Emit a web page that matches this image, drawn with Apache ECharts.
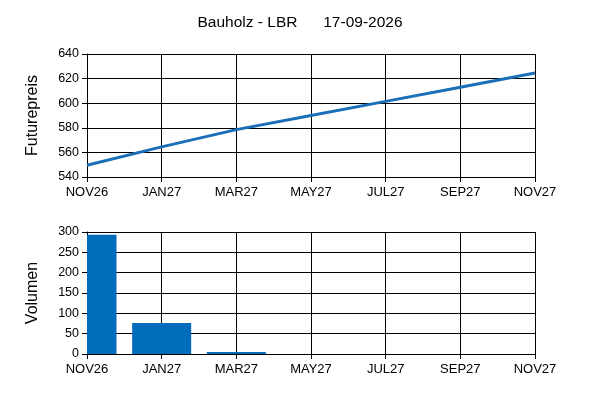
<!DOCTYPE html>
<html>
<head>
<meta charset="utf-8">
<script src="https://cdn.jsdelivr.net/npm/echarts@6/dist/echarts.min.js"></script>
<style>
  html, body { margin: 0; padding: 0; background: #fff; }
  #chart { width: 600px; height: 400px; }
</style>
</head>
<body>
<div id="chart"></div>
<script>
  const months = ["NOV26", "JAN27", "MAR27", "MAY27", "JUL27", "SEP27", "NOV27"];
  const futurePrice = [549.5, 564.5, 578.5, 590, 601.5, 613, 624.5];
  const volume = [293, 76, 5, 0, 0, 0, 0];

  const titleText = "Bauholz - LBR      17-09-2026";
  const fontFamily = "'Liberation Sans', Arial, sans-serif";
  const black = "#000";
  const barWidth = 59;

  function xAxisFor(gridIndex) {
    return {
      type: "category",
      gridIndex: gridIndex,
      data: months,
      boundaryGap: false,
      axisLine: { lineStyle: { color: black, width: 1 } },
      axisTick: { show: true, length: 5, inside: false, lineStyle: { color: black } },
      axisLabel: { color: black, fontSize: 13, fontFamily: fontFamily, margin: 9, interval: 0 },
      splitLine: { show: true, lineStyle: { color: black, width: 1 } },
    };
  }

  function yAxisFor(gridIndex, name, min, max, interval) {
    return {
      type: "value",
      gridIndex: gridIndex,
      min: min,
      max: max,
      interval: interval,
      name: name,
      nameLocation: "middle",
      nameGap: 46,
      nameTextStyle: { color: black, fontSize: 16, fontFamily: fontFamily },
      axisLine: { show: true, lineStyle: { color: black, width: 1 } },
      axisTick: { show: true, length: 5, lineStyle: { color: black } },
      axisLabel: { color: black, fontSize: 12.5, fontFamily: fontFamily, margin: 8 },
      splitLine: { show: true, lineStyle: { color: black, width: 1 } },
    };
  }

  // bars clipped to the plot area (first bar sits on the left edge)
  function renderBar(params, api) {
    const idx = api.value(0);
    const val = api.value(1);
    if (!val) return null;
    const top = api.coord([idx, val]);
    const base = api.coord([idx, 0]);
    const cs = params.coordSys;
    const shape = echarts.graphic.clipRectByRect(
      { x: top[0] - barWidth / 2, y: top[1], width: barWidth, height: base[1] - top[1] },
      { x: cs.x, y: cs.y, width: cs.width, height: cs.height }
    );
    if (!shape) return null;
    return { type: "rect", shape: shape, style: api.style() };
  }

  const chart = echarts.init(document.getElementById("chart"));
  chart.setOption({
    backgroundColor: "#fff",
    animation: false,
    title: {
      text: titleText,
      left: "center",
      top: 10,
      textStyle: { color: black, fontSize: 15.5, fontWeight: "normal", fontFamily: fontFamily },
    },
    grid: [
      { left: 87, right: 65, top: 54, height: 123 },
      { left: 87, right: 65, top: 232, height: 122 },
    ],
    xAxis: [xAxisFor(0), xAxisFor(1)],
    yAxis: [
      yAxisFor(0, "Futurepreis", 540, 640, 20),
      yAxisFor(1, "Volumen", 0, 300, 50),
    ],
    series: [
      {
        name: "Futurepreis",
        type: "line",
        xAxisIndex: 0,
        yAxisIndex: 0,
        data: futurePrice,
        symbol: "none",
        z: 5,
        lineStyle: { color: "#1a6fb8", width: 3 },
      },
      {
        name: "Volumen",
        type: "custom",
        xAxisIndex: 1,
        yAxisIndex: 1,
        data: volume.map((v, i) => [i, v]),
        encode: { x: 0, y: 1 },
        renderItem: renderBar,
        z: 5,
        itemStyle: { color: "#006cbc" },
      },
    ],
  });
</script>
</body>
</html>
